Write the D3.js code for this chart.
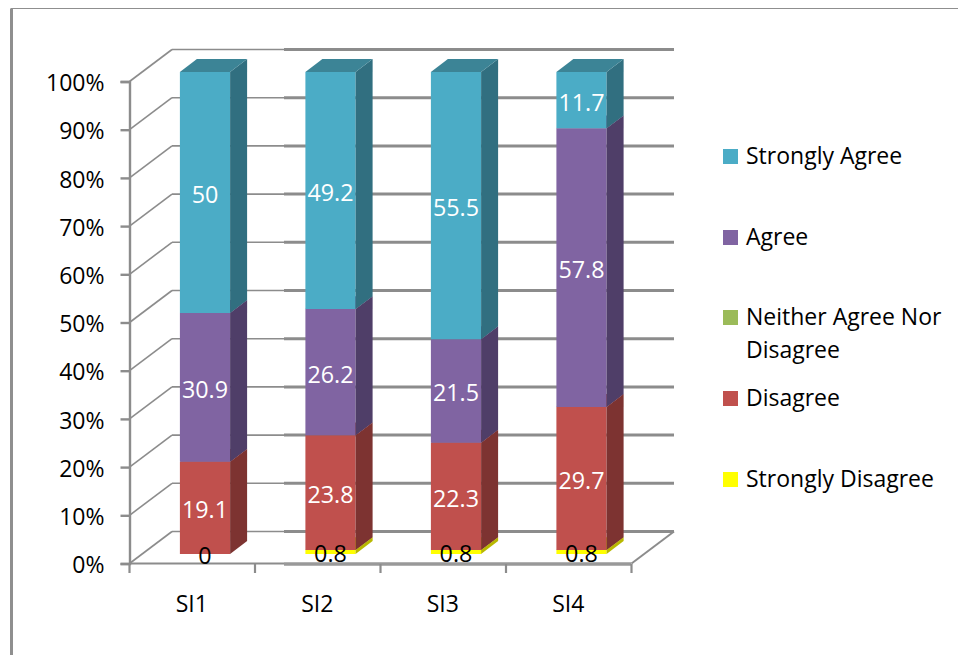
<!DOCTYPE html>
<html>
<head>
<meta charset="utf-8">
<script src="https://cdn.jsdelivr.net/npm/d3@7/dist/d3.min.js"></script>
<style>
html,body{margin:0;padding:0;background:#fff;}
svg{display:block;}
text{font-family:"Open Sans",sans-serif;}
</style>
</head>
<body>
<svg id="chart" width="958" height="655"></svg>
<script>
// Survey responses per item, as percentages, bottom of the stack first
const categories = ["SI1", "SI2", "SI3", "SI4"];
const seriesNames = ["Strongly Disagree", "Disagree", "Neither Agree Nor Disagree", "Agree", "Strongly Agree"];
const stronglyDisagree = [0, 0.8, 0.8, 0.8];
const disagree = [19.1, 23.8, 22.3, 29.7];
const neither = [null, null, null, null];
const agree = [30.9, 26.2, 21.5, 57.8];
const stronglyAgree = [50, 49.2, 55.5, 11.7];
const yTicks = [0, 10, 20, 30, 40, 50, 60, 70, 80, 90, 100];
const legendOrder = ["Strongly Agree", "Agree", "Neither Agree Nor Disagree", "Disagree", "Strongly Disagree"];

const seriesValues = [stronglyDisagree, disagree, neither, agree, stronglyAgree];
const faceColors = ["#ffff00", "#c0504d", "#9bbb59", "#8064a2", "#4bacc6"];
const sideColors = ["#b8b800", "#7d3331", "#65793a", "#4f3e68", "#316f80"];
const topColors  = ["#cccc00", "#9a403e", "#7c9647", "#665082", "#3c8496"];
const labelColors = ["#000", "#fff", "#fff", "#fff", "#fff"];

const svg = d3.select("#chart");

// Oblique projection: z runs 0..1 from the front of the floor to the back wall
const depthX = 42.5, depthY = -32;
const x = d3.scaleBand().domain(categories).range([129.5, 631.5]).paddingInner(0.6).paddingOuter(0.3);
const y = d3.scaleLinear().domain([0, 100]).range([563.5, 81.5]);
const zGap = 0.3, zDepth = 0.4;
const project = (px, v, z) => [px + depthX * z, y(v) + depthY * z];
const poly = pts => "M" + pts.map(p => p.join(",")).join("L") + "Z";

const gridColor = "#8c8c8c";
const seam = 284; // the back wall is drawn heavier from this x rightwards

// Outer frame
svg.append("path").attr("d", "M11.5,655V8.5H958").attr("fill", "none").attr("stroke", "#8f8f8f").attr("stroke-width", 1.2);
svg.append("path").attr("d", "M11.5,655V8.5").attr("fill", "none").attr("stroke", "#8f8f8f").attr("stroke-width", 3);

// Back wall gridlines and side wall diagonals
const walls = svg.append("g").attr("fill", "none").attr("stroke", gridColor);
yTicks.forEach(t => {
  const a = project(x.range()[0], t, 0), b = project(x.range()[0], t, 1), c = project(x.range()[1], t, 1);
  walls.append("line").attr("x1", a[0]).attr("y1", a[1]).attr("x2", b[0]).attr("y2", b[1]).attr("stroke-width", 1.6);
  walls.append("line").attr("x1", b[0]).attr("y1", b[1]).attr("x2", seam).attr("y2", b[1]).attr("stroke-width", 1.6);
  walls.append("line").attr("x1", seam).attr("y1", b[1]).attr("x2", c[0]).attr("y2", b[1]).attr("stroke-width", 3);
});
// Right edge of the floor
const fr0 = project(x.range()[1], 0, 0), fr1 = project(x.range()[1], 0, 1);
walls.append("line").attr("x1", fr0[0]).attr("y1", fr0[1]).attr("x2", fr1[0]).attr("y2", fr1[1]).attr("stroke-width", 2);

// Axes
const yAxis = d3.axisLeft(y).tickValues(yTicks).tickFormat(d => d + "%").tickSize(9).tickPadding(16);
const xAxis = d3.axisBottom(x).tickSize(0).tickPadding(32);
const gy = svg.append("g").attr("transform", "translate(129.5,0)").call(yAxis);
const gx = svg.append("g").attr("transform", "translate(-0.5,563.5)").call(xAxis);
[gy, gx].forEach(g => {
  g.selectAll("path.domain").attr("stroke", gridColor).attr("stroke-width", 2.4);
  g.selectAll(".tick line").attr("stroke", gridColor).attr("stroke-width", 2.4);
  g.selectAll("text").attr("font-family", '"Open Sans",sans-serif').attr("font-size", 23).attr("fill", "#000");
});
gy.selectAll(".tick text").attr("dy", "0.4em");
gx.select("path.domain").attr("d", "M130,0H284.5").attr("stroke-width", 2.2);
svg.append("line").attr("x1", seam).attr("x2", x.range()[1]).attr("y1", 564).attr("y2", 564).attr("stroke", "#999").attr("stroke-width", 3.4);
// Category boundary ticks under the floor
const step = x.step();
d3.range(categories.length + 1).forEach(i => {
  const px = x.range()[0] + i * step;
  svg.append("line").attr("x1", px).attr("x2", px).attr("y1", 564).attr("y2", 573).attr("stroke", gridColor).attr("stroke-width", 2.2);
});

// 100% stacked columns: each segment has a front face, a right side and a top
const bars = svg.append("g");
const labels = [];
categories.forEach((cat, ci) => {
  const total = d3.sum(seriesValues, vals => vals[ci]);
  let base = 0;
  seriesValues.forEach((vals, si) => {
    const v = vals[ci];
    if (v === null) return;
    const share = v / total * 100;
    const left = x(cat), right = left + x.bandwidth();
    const z0 = zGap, z1 = zGap + zDepth;
    const end = base + share;
    if (v > 0) {
      bars.append("path").attr("d", poly([project(left, base, z0), project(right, base, z0), project(right, end, z0), project(left, end, z0)])).attr("fill", faceColors[si]);
      bars.append("path").attr("d", poly([project(right, base, z0), project(right, base, z1), project(right, end, z1), project(right, end, z0)])).attr("fill", sideColors[si]);
      bars.append("path").attr("d", poly([project(left, end, z0), project(right, end, z0), project(right, end, z1), project(left, end, z1)])).attr("fill", topColors[si]);
    }
    const c = project((left + right) / 2, (base + end) / 2, z0);
    labels.push({ text: v, x: c[0], y: c[1], color: labelColors[si] });
    base = end;
  });
});

// Value labels sit over all the columns
svg.append("g").selectAll("text").data(labels).join("text")
  .attr("x", d => d.x).attr("y", d => d.y + 1.5)
  .attr("text-anchor", "middle").attr("dominant-baseline", "central")
  .attr("font-size", 23.3).attr("fill", d => d.color)
  .text(d => d.text);

// Legend
const legendRows = [156, 237, 317, 398, 479];
const legend = svg.append("g");
legendOrder.forEach((name, i) => {
  const row = legendRows[i];
  const si = seriesNames.indexOf(name);
  legend.append("rect").attr("x", 723).attr("y", row - 7).attr("width", 15).attr("height", 15).attr("fill", faceColors[si]);
  const t = legend.append("text").attr("x", 746).attr("y", row + 8).attr("font-size", 23).attr("fill", "#000");
  if (name === "Neither Agree Nor Disagree") {
    t.append("tspan").attr("x", 746).text("Neither Agree Nor");
    t.append("tspan").attr("x", 746).attr("dy", 33).text("Disagree");
  } else {
    t.text(name);
  }
});
</script>
</body>
</html>
